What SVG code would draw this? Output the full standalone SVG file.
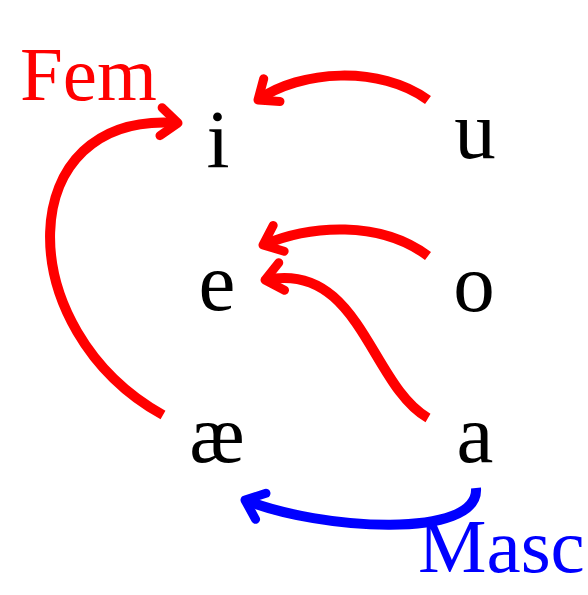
<svg xmlns="http://www.w3.org/2000/svg" width="588" height="595" viewBox="0 0 588 595">
<style>
.v{font-family:"Liberation Serif","DejaVu Serif",serif;font-size:83px;fill:#000;text-anchor:middle}
.lab{font-family:"Liberation Serif","DejaVu Serif",serif;font-size:77px}
.r{fill:none;stroke:#ff0000;stroke-width:10}
.b{fill:none;stroke:#0000ff;stroke-width:10}
</style>
<defs>
<marker id="hr" markerUnits="userSpaceOnUse" orient="auto" refX="0" refY="0" markerWidth="40" markerHeight="40" overflow="visible">
<path d="M-17,-14 L0,0 L-17,14" fill="none" stroke="#ff0000" stroke-width="9" stroke-linecap="round" stroke-linejoin="round"/>
</marker>
<marker id="hb" markerUnits="userSpaceOnUse" orient="auto" refX="0" refY="0" markerWidth="40" markerHeight="40" overflow="visible">
<path d="M-17,-14 L0,0 L-17,14" fill="none" stroke="#0000ff" stroke-width="9" stroke-linecap="round" stroke-linejoin="round"/>
</marker>
</defs>
<g id="connectors">
<path id="ae-i" class="r" d="M163,415 C10,330 10,110 178,123" marker-end="url(#hr)"/>
<path id="u-i" class="r" d="M428,100 C380,65 300,70 258,100" marker-end="url(#hr)"/>
<path id="o-e" class="r" d="M428,256 C380,220 310,225 263,245" marker-end="url(#hr)"/>
<path id="a-e" class="r" d="M428,418 C370,385 360,260 265,280" marker-end="url(#hr)"/>
<path id="a-ae" class="b" d="M476,488 C480,540 320,530 245,500" marker-end="url(#hb)"/>
</g>
<g id="node-i"><text class="v" x="218" y="167">i</text></g>
<g id="node-u"><text class="v" x="475" y="158">u</text></g>
<g id="node-e"><text class="v" x="217" y="310">e</text></g>
<g id="node-o"><text class="v" x="474" y="311">o</text></g>
<g id="node-ae"><text class="v" x="217" y="462">æ</text></g>
<g id="node-a"><text class="v" x="475" y="462">a</text></g>
<g id="label-fem"><text class="lab" x="20" y="100" fill="#ff0000">Fem</text></g>
<g id="label-masc"><text class="lab" x="418" y="572" fill="#0000ff">Masc</text></g>
</svg>
